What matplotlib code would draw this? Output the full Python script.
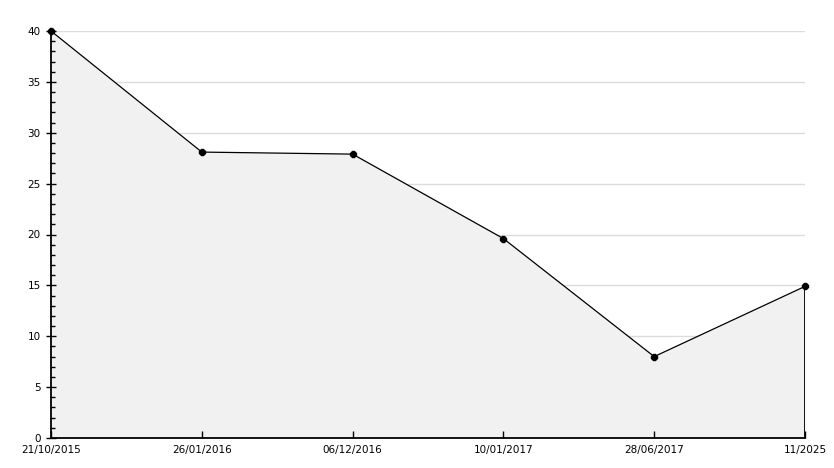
import matplotlib
matplotlib.use("Agg")
from matplotlib import pyplot as plt
from matplotlib.ticker import MultipleLocator

dates = ["21/10/2015", "26/01/2016", "06/12/2016", "10/01/2017", "28/06/2017", "11/2025"]
values = [40, 28.1, 27.9, 19.6, 8.0, 14.9]

x = list(range(len(dates)))
yticks = list(range(0, 41, 5))

fig = plt.figure(figsize=(8.34, 4.68), dpi=100)
ax = fig.add_axes([51 / 834, 30 / 468, 754 / 834, 407 / 468])

ax.set_xlim(0, len(dates) - 1)
ax.set_ylim(0, 40)

# background grid, drawn by hand so the fill can hide it but not the ticks
for yv in yticks[1:]:
    ax.axhline(yv, color="#dcdcdc", linewidth=1, zorder=0)

ax.fill_between(x, values, 0, color="#f1f1f1", linewidth=0, zorder=1)
ax.plot([x[-1], x[-1]], [0, values[-1]], color="black", linewidth=1.3, zorder=2)
ax.plot(x, values, color="black", linewidth=0.9, marker="8", markersize=5,
        clip_on=False, zorder=3)

for s in ["top", "right"]:
    ax.spines[s].set_visible(False)
for s in ["left", "bottom"]:
    ax.spines[s].set_linewidth(1.3)
    ax.spines[s].set_color("black")

ax.set_xticks(x)
ax.set_xticklabels(dates)
ax.set_yticks(yticks)
ax.yaxis.set_minor_locator(MultipleLocator(1))
ax.tick_params(axis="x", direction="in", length=5, width=1, labelsize=7.5, pad=5)
ax.tick_params(axis="y", which="major", direction="inout", length=7, width=1, labelsize=7.5, pad=4)
ax.tick_params(axis="y", which="minor", direction="in", length=3, width=1)

plt.savefig("out.png", dpi=100)
